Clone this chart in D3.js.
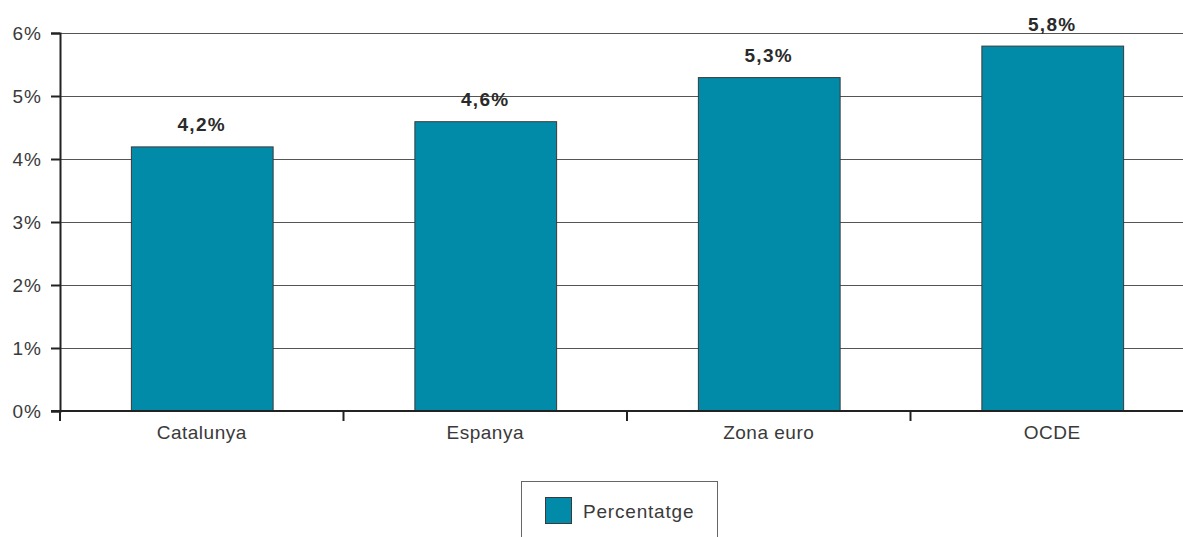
<!DOCTYPE html>
<html><head><meta charset="utf-8">
<script src="https://cdn.jsdelivr.net/npm/d3@7"></script>
<style>body{margin:0;background:#fff;overflow:hidden}svg{display:block}</style>
</head><body>
<script>
const categories = ["Catalunya", "Espanya", "Zona euro", "OCDE"];
const values = [4.2, 4.6, 5.3, 5.8];
const valueLabels = ["4,2%", "4,6%", "5,3%", "5,8%"];
const yTicks = [0, 1, 2, 3, 4, 5, 6];
const yTickLabels = ["0%", "1%", "2%", "3%", "4%", "5%", "6%"];
const seriesName = "Percentatge";

const W = 1183, H = 537;
const svg = d3.select("body").append("svg").attr("width", W).attr("height", H);
const font = "'Liberation Sans', Arial, sans-serif";
const x0 = 60, x1 = 1194, yTop = 33, yBot = 411;

const x = d3.scaleBand().domain(categories).range([x0, x1]).paddingInner(0.5).paddingOuter(0.25);
const y = d3.scaleLinear().domain([0, 6]).range([yBot, yTop]);

// gridlines
svg.append("g").selectAll("line").data(yTicks.filter(d => d > 0)).join("line")
  .attr("x1", x0).attr("x2", W).attr("y1", d => y(d)).attr("y2", d => y(d))
  .attr("stroke", "#555").attr("stroke-width", 1).attr("shape-rendering", "crispEdges");

// bars
svg.append("g").selectAll("rect").data(values).join("rect")
  .attr("x", (d, i) => x(categories[i]) + 0.5)
  .attr("y", d => y(d) + 0.5)
  .attr("width", x.bandwidth())
  .attr("height", d => yBot - y(d))
  .attr("fill", "#028ba8").attr("stroke", "#3a3a3a").attr("stroke-width", 1);

// value labels
svg.append("g").selectAll("text").data(values).join("text")
  .attr("x", (d, i) => x(categories[i]) + x.bandwidth() / 2)
  .attr("y", d => y(d) - 15)
  .attr("text-anchor", "middle")
  .attr("font-family", font).attr("font-size", 19).attr("font-weight", "bold")
  .attr("letter-spacing", 1.3)
  .attr("fill", "#2a2a2a").text((d, i) => valueLabels[i]);

// y axis
const yAxis = d3.axisLeft(y).tickValues(yTicks).tickFormat((d, i) => yTickLabels[i]).tickSize(9).tickPadding(9);
const gy = svg.append("g").attr("transform", `translate(${x0},0)`).call(yAxis);
gy.select(".domain").attr("stroke", "#222").attr("stroke-width", 2);
gy.selectAll(".tick line").attr("stroke", "#222").attr("stroke-width", 2);
gy.selectAll(".tick text").attr("font-family", font).attr("font-size", 19)
  .attr("letter-spacing", 1).attr("fill", "#3a3a3a");

// x axis
const gx = svg.append("g").attr("transform", `translate(0,${yBot})`);
gx.append("line").attr("x1", x0 - 9).attr("x2", W).attr("y1", 0).attr("y2", 0)
  .attr("stroke", "#222").attr("stroke-width", 2);
const step = x.step();
const bounds = categories.map((c, i) => x(c) - (step - x.bandwidth()) / 2);
gx.selectAll("line.tk").data(bounds).join("line").attr("class", "tk")
  .attr("x1", d => d).attr("x2", d => d).attr("y1", 0).attr("y2", 10)
  .attr("stroke", "#222").attr("stroke-width", 2);
gx.selectAll("text").data(categories).join("text")
  .attr("x", d => x(d) + x.bandwidth() / 2).attr("y", 28)
  .attr("text-anchor", "middle")
  .attr("font-family", font).attr("font-size", 19).attr("letter-spacing", 0.5)
  .attr("fill", "#3a3a3a").text(d => d);

// legend
const lg = svg.append("g");
lg.append("rect").attr("x", 521.5).attr("y", 481.5).attr("width", 196).attr("height", 70)
  .attr("fill", "none").attr("stroke", "#666").attr("stroke-width", 1);
lg.append("rect").attr("x", 545.5).attr("y", 497.5).attr("width", 26).attr("height", 26)
  .attr("fill", "#028ba8").attr("stroke", "#3a3a3a").attr("stroke-width", 1);
lg.append("text").attr("x", 583).attr("y", 518)
  .attr("font-family", font).attr("font-size", 19).attr("letter-spacing", 0.8)
  .attr("fill", "#3a3a3a").text(seriesName);
</script>
</body></html>
